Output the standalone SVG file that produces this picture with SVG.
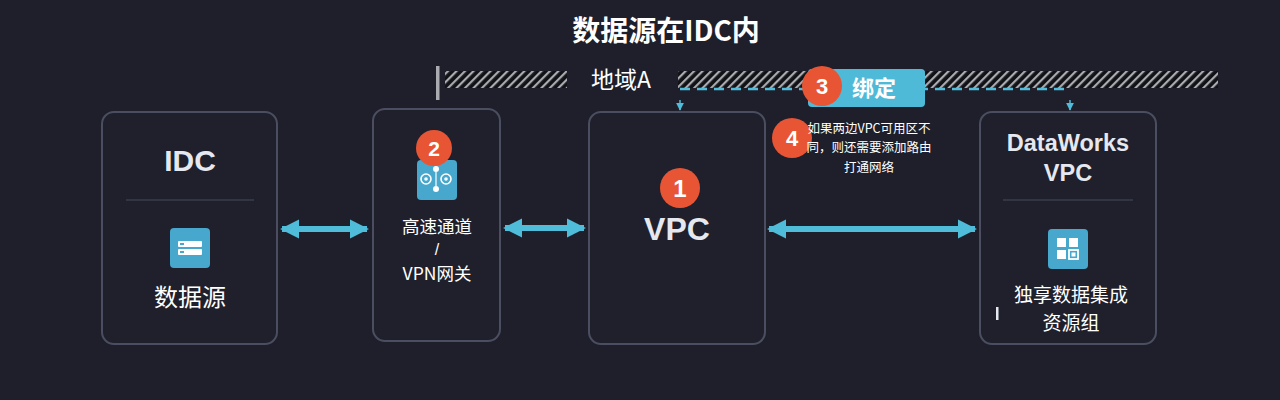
<svg xmlns="http://www.w3.org/2000/svg" width="1280" height="400" viewBox="0 0 1280 400">
<defs>
<style>
.node{fill:#1f202c;stroke:#4b4e60;stroke-width:2}
.t{font-family:"Noto Sans CJK SC","Liberation Sans",sans-serif;fill:#ffffff;text-anchor:middle}
.tl{font-family:"Liberation Sans","Noto Sans CJK SC",sans-serif;fill:#e6e8f0;text-anchor:middle;font-weight:bold}
.badge{fill:#e85535}
.bn{font-family:"Liberation Sans",sans-serif;font-weight:bold;fill:#ffffff;text-anchor:middle}
.icon{fill:#47a7cc}
.conn{stroke:#4fbcd9;stroke-width:6;fill:none}
.div{stroke:#3a3c4c;stroke-width:1.5}
</style>
<pattern id="hatch" width="6" height="6" patternUnits="userSpaceOnUse" patternTransform="rotate(45)">
<rect width="6" height="6" fill="#111216"/>
<rect width="2.2" height="6" fill="#a9abb0"/>
</pattern>
<marker id="ah" viewBox="0 0 10 10" refX="9" refY="5" markerWidth="3.2" markerHeight="3.2" orient="auto-start-reverse">
<path d="M0,0 L10,5 L0,10 z" fill="#4fbcd9"/>
</marker>
<marker id="sa" viewBox="0 0 10 10" refX="5" refY="9" markerWidth="8" markerHeight="8" markerUnits="userSpaceOnUse" orient="0">
<path d="M0,0 L10,0 L5,10 z" fill="#4fbcd9"/>
</marker>
</defs>
<rect width="1280" height="400" fill="#1e1f2b"/>

<text class="t" x="666" y="41" font-size="28" font-weight="bold">数据源在IDC内</text>

<g id="region">
<rect x="436" y="66" width="3.5" height="34" fill="#a9abb0"/>
<rect x="445" y="71" width="122" height="17" fill="url(#hatch)"/>
<rect x="678" y="71" width="540" height="17" fill="url(#hatch)"/>
<text class="t" x="621" y="88" font-size="23">地域A</text>
</g>

<g id="connectors">
<line class="conn" x1="282" y1="229" x2="367" y2="229" marker-start="url(#ah)" marker-end="url(#ah)"/>
<line class="conn" x1="505" y1="228" x2="584" y2="228" marker-start="url(#ah)" marker-end="url(#ah)"/>
<line class="conn" x1="769" y1="229" x2="975" y2="229" marker-start="url(#ah)" marker-end="url(#ah)"/>
<path d="M680,89 L1070,89" stroke="#4fbcd9" stroke-width="2.5" stroke-dasharray="10,7" fill="none"/>
<line x1="680" y1="100" x2="680" y2="110" stroke="#4fbcd9" stroke-width="1.5" marker-end="url(#sa)"/>
<line x1="1070" y1="100" x2="1070" y2="110" stroke="#4fbcd9" stroke-width="1.5" marker-end="url(#sa)"/>
</g>

<g id="bind">
<rect x="808" y="69" width="117" height="38" rx="4" fill="#4fbad8"/>
<text class="t" x="874" y="96" font-size="22" font-weight="bold">绑定</text>
<circle class="badge" cx="822" cy="86" r="20"/>
<text class="bn" x="822" y="94" font-size="22">3</text>
</g>

<g id="note">
<circle class="badge" cx="792" cy="138" r="20"/>
<text class="bn" x="792" y="146" font-size="22">4</text>
<text class="t" x="869" y="133" font-size="12.5">如果两边VPC可用区不</text>
<text class="t" x="869" y="152" font-size="12.5">同，则还需要添加路由</text>
<text class="t" x="869" y="172" font-size="12.5">打通网络</text>
</g>

<g id="idc">
<rect class="node" x="102" y="112" width="175" height="232" rx="12"/>
<text class="tl" x="190" y="171" font-size="30">IDC</text>
<line class="div" x1="126" y1="200" x2="254" y2="200"/>
<rect class="icon" x="170" y="228" width="40" height="40" rx="4"/>
<rect x="178" y="241" width="24" height="6" rx="1" fill="#ffffff"/>
<rect x="178" y="249" width="24" height="6" rx="1" fill="#ffffff"/>
<rect x="180" y="243" width="4" height="2" fill="#47a7cc"/>
<rect x="180" y="251" width="4" height="2" fill="#47a7cc"/>
<text class="t" x="190" y="306" font-size="24" fill="#e6e8f0">数据源</text>
</g>

<g id="gateway">
<rect class="node" x="373" y="109" width="127" height="232" rx="12"/>
<rect class="icon" x="417" y="160" width="40" height="40" rx="4"/>
<circle cx="426" cy="179" r="5" fill="none" stroke="#ffffff" stroke-width="1.6"/>
<circle cx="426" cy="179" r="1.8" fill="#ffffff"/>
<circle cx="446" cy="179" r="5" fill="none" stroke="#ffffff" stroke-width="1.6"/>
<circle cx="446" cy="179" r="1.8" fill="#ffffff"/>
<circle cx="436" cy="169" r="3" fill="#ffffff"/>
<circle cx="436" cy="189" r="3" fill="#ffffff"/>
<path d="M436,172 L436,186" stroke="#ffffff" stroke-width="1.2"/>
<circle class="badge" cx="434" cy="148" r="18"/>
<text class="bn" x="434" y="156" font-size="21">2</text>
<text class="t" x="437" y="233" font-size="17.5">高速通道</text>
<text x="437" y="255" font-size="16" fill="#ffffff" text-anchor="middle" font-family="Liberation Sans, sans-serif">/</text>
<text class="t" x="437" y="280" font-size="17.5">VPN网关</text>
</g>

<g id="vpc">
<rect class="node" x="589" y="112" width="176" height="232" rx="12"/>
<circle class="badge" cx="680" cy="188" r="20"/>
<text class="bn" x="680" y="197" font-size="24">1</text>
<text class="tl" x="677" y="240" font-size="32">VPC</text>
</g>

<g id="dataworks">
<rect class="node" x="980" y="112" width="176" height="232" rx="12"/>
<text class="tl" x="1068" y="151" font-size="23.5">DataWorks</text>
<text class="tl" x="1068" y="181" font-size="23.5">VPC</text>
<line class="div" x1="1003" y1="200" x2="1133" y2="200"/>
<rect class="icon" x="1048" y="229" width="40" height="40" rx="4"/>
<rect x="1057" y="238" width="9" height="9" fill="#ffffff"/>
<rect x="1069" y="238" width="9" height="9" fill="#ffffff"/>
<rect x="1057" y="250" width="9" height="9" fill="#ffffff"/>
<rect x="1069" y="250" width="9" height="9" fill="none" stroke="#ffffff" stroke-width="1.8"/>
<rect x="1071.5" y="252.5" width="4" height="4" fill="#ffffff"/>
<rect x="996" y="307" width="2.5" height="13" fill="#e6e8f0"/>
<text class="t" x="1071" y="302" font-size="19" fill="#e6e8f0">独享数据集成</text>
<text class="t" x="1071" y="330" font-size="19" fill="#e6e8f0">资源组</text>
</g>
</svg>
